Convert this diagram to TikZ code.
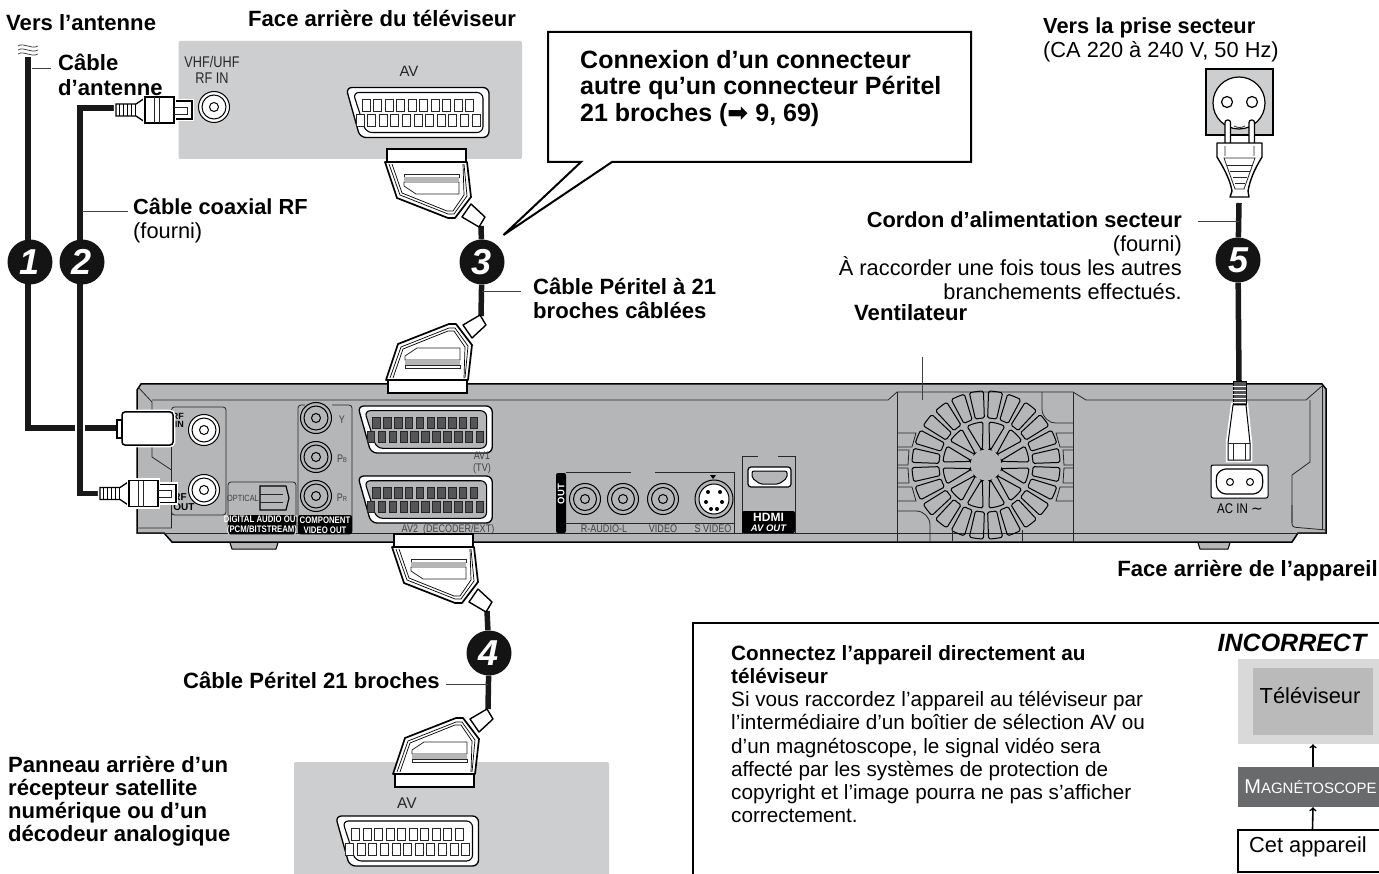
\documentclass[tikz,border=0pt]{standalone}
\usepackage{fontspec}
\setmainfont{Liberation Sans}
\newfontfamily\narrowfont[FakeStretch=0.82]{Liberation Sans}
\newfontfamily\symbolfont{DejaVu Sans}
\usetikzlibrary{backgrounds}
\definecolor{panelgrey}{RGB}{205,206,207}
\definecolor{devicegrey}{RGB}{181,182,184}
\definecolor{pingrey}{RGB}{85,85,87}
\definecolor{vcrgrey}{RGB}{105,106,108}
\tikzset{%
    cable/.style={line width=5.5pt,draw=black!90},
    leader/.style={line width=1pt,draw=black!75},
    thinline/.style={line width=.8pt,draw=black!85},
    step node/.style={circle,fill=black!92,text=white,minimum size=45pt,inner sep=0pt,
        font=\fontsize{36}{36}\selectfont\bfseries\itshape},
    tag/.style={anchor=north west,inner sep=0pt,align=left,
        font=\fontsize{21.8}{24}\selectfont},
    btag/.style={anchor=north west,inner sep=0pt,align=left,
        font=\bfseries\fontsize{22.1}{24}\selectfont},
    btagr/.style={anchor=north east,inner sep=0pt,align=right,
        font=\bfseries\fontsize{22.1}{24}\selectfont},
    note/.style={anchor=north west,inner sep=0pt,align=left,
        font=\fontsize{20.7}{23.2}\selectfont},
    tiny/.style={inner sep=0pt,text=black!75,font=\narrowfont\fontsize{11}{12}\selectfont},
    tvtext/.style={inner sep=0pt,text=black!85},
    band/.style={inner sep=0pt,align=center,text=white,
        font=\narrowfont\bfseries\fontsize{9.5}{10.5}\selectfont},
    halo/.style={preaction={draw=white,line width=4.5pt}},
    pics/scartplug/.style={code={
        \draw[line width=1.6pt,fill=white] (-40,0) rectangle (39,-13);
        \draw[line width=1.4pt,fill=white,line join=round] (35,-68) -- (44,-55) -- (58,-68) -- (52,-78) -- cycle;
        \draw[line width=1.7pt,fill=white,line join=round] (-42,-13) -- (-30,-49) -- (21,-69) -- (28,-69) -- (44,-48) -- (40,-13) -- cycle;
        \draw[line width=.7pt] (-38,-15) -- (-27,-46) -- (21,-65) -- (27,-65) -- (40,-47) -- (37,-15);
        \draw[line width=.7pt] (-35,-15) -- (-25,-44) -- (20,-62) -- (26,-62) -- (37,-46) -- (36,-15);
        \draw[thinline,fill=white] (-23,-33) -- (32,-33) -- (32,-45) -- (-11,-45) -- (-23,-37) -- cycle;
        \draw[thinline] (-23,-25) rectangle (32,-28);
        \fill[devicegrey] (-23,-28) rectangle (32,-33);
    }},
    pics/scartsocket/.style n args={2}{code={
        \draw[line width=1.3pt,fill=white,rounded corners=6pt] (-72,-25) -- (71,-25) -- (71,25) -- (-58,25) -- cycle;
        \draw[line width=1.1pt,fill=#1,rounded corners=6pt] (-65,-20) -- (65,-20) -- (65,20) -- (-52,20) -- cycle;
        \foreach \i in {0,...,9}
            \draw[thinline,fill=#2] (-56+\i*11.5,-13) rectangle +(8,12);
        \foreach \i in {0,...,10}
            \draw[thinline,fill=#2] (-62+\i*11.6,2) rectangle +(8,12);
    }},
    pics/jack/.style={code={
        \draw[line width=1pt,fill=#1] (0,0) circle[radius=15.5pt];
        \draw[line width=1pt] (0,0) circle[radius=12pt];
        \draw[line width=1pt] (0,0) circle[radius=4.5pt];
    }},
    pics/coaxplug/.style={code={
        \draw[line width=1.3pt,fill=white,halo] (0,-6) -- (20,-6) -- (29,-12) -- (29,12) -- (20,6) -- (0,6) -- cycle;
        \foreach \i in {3,7,...,19} \draw[line width=1pt] (\i,-6) -- (\i,6);
        \draw[line width=1.5pt,fill=white,halo] (57,-9) rectangle (76,9);
        \draw[line width=1.5pt,fill=white,halo] (29,-13) rectangle (58,13);
        \draw[thinline] (38,-13) -- (38,13) (43,-13) -- (43,13);
        \draw[thinline] (58,-3) -- (71,-3) -- (71,4) -- (58,4);
    }},
}
\begin{document}
\begin{tikzpicture}[x=1pt,y=-1pt,>=to]
\useasboundingbox (0,0) rectangle (1379,874);

% grey panels
\fill[panelgrey,rounded corners=2pt] (178.5,41) rectangle (522,159);
\fill[panelgrey,rounded corners=2pt] (294,762) rectangle (609,880);

% the device
\draw[line width=1.5pt,fill=devicegrey] (137,390) -- (141,384) -- (1322,384) -- (1326,389) -- (1326,533) -- (1298,533) -- (1292,542) -- (172,542) -- (164,533) -- (137,533) -- cycle;
\draw[thinline] (137,533) -- (1326,533);
\draw[thinline] (138,387) -- (152,402) -- (152,457) -- (171.5,470) -- (171.5,528) -- (137,528);
\draw[thinline] (152,400) -- (888,400) -- (897,392) -- (1073,392) -- (1086,400) -- (1306,400) -- (1322,386);
\draw[thinline] (1292,523) -- (1292,475) -- (1310,462) -- (1310,400);
\draw[thinline,rounded corners=3pt] (1292,505) -- (1292,527) -- (1326,530);
\draw[thinline] (1322,386) -- (1322,530);
\draw[line width=1pt,fill=devicegrey] (230,543) -- (232,549) -- (276,549) -- (278,543);
\draw[line width=1pt,fill=devicegrey] (1198,543) -- (1200,549) -- (1228,549) -- (1230,543);

% rf panel
\draw[thinline,rounded corners=3pt] (171.5,407) rectangle (226,515);
\pic at (204,430) {jack=white};
\pic at (204,490) {jack=white};
\node[anchor=north east,inner sep=0pt,align=right,font=\bfseries\fontsize{9}{8}\selectfont] (rfintag) at (184,413) {RF\\IN};
\node[inner sep=0pt,align=left,font=\bfseries\fontsize{10}{9.5}\selectfont] (rfouttag) at (184,502) {RF\\OUT};

% optical
\draw[thinline,rounded corners=3pt] (228,482) rectangle (296,534);
\fill[black,rounded corners=2pt] (228,515) rectangle (296,534);
\node[band] (opticband) at (262,525) {DIGITAL AUDIO OUT\\(PCM/BITSTREAM)};
\node[tiny,font=\narrowfont\fontsize{9}{9}\selectfont] (optictag) at (243,498) {OPTICAL};
\draw[line width=1.2pt,fill=devicegrey] (260,486) -- (286,486) -- (289,498) -- (286,510) -- (260,510) -- cycle;
\draw[thinline] (260,494) -- (283,494) (260,502) -- (283,502);

% component
\draw[thinline,rounded corners=3pt] (332,405) -- (352,405) -- (352,534) -- (298,534) -- (298,405) -- (305,405);
\fill[black,rounded corners=2pt] (298,515) rectangle (352,534);
\node[band] (compband) at (325,525) {COMPONENT\\VIDEO OUT};
\foreach \y/\t in {418/Y,457/{P\scriptsize B},496/{P\scriptsize R}} {
    \pic at (316,\y) {jack=devicegrey};
    \node[tiny] (comp\y) at (342,\y+2) {\t};
}

% scart sockets
\pic[xscale=.94,yscale=.94] at (425.5,429.5) {scartsocket={devicegrey}{pingrey}};
\pic[xscale=.94,yscale=.94] at (425.5,499.5) {scartsocket={devicegrey}{pingrey}};
\node[tiny,align=center] (av1tag) at (482,463) {AV1\\(TV)};
\node[tiny] (av2tag) at (448,530) {AV2\ \ (DECODER/EXT)};

% outputs
\fill[black,rounded corners=2pt] (556,473) rectangle (566,533);
\node[band,rotate=90,font=\bfseries\fontsize{9.5}{10}\selectfont] (outband) at (561,494) {OUT};
\draw[thinline] (566,472) -- (631,472) (655,472) -- (734,472) -- (734,533);
\draw[thinline] (566,523) -- (734,523);
\foreach \x in {585,623,663} {
    \draw[line width=1pt] (\x,499) circle[radius=15.5pt];
    \draw[line width=1pt] (\x,499) circle[radius=11.5pt];
    \draw[line width=1pt] (\x,499) circle[radius=4.5pt];
}
\draw[line width=1pt] (714,499) circle[radius=19pt];
\draw[line width=1pt,fill=white] (714,499) circle[radius=15pt];
\foreach \x/\y in {708/492,720/492,706/502,722/502,711/509,717/509} \fill[black] (\x,\y) circle[radius=2pt];
\fill[black] (710,475) -- (716,475) -- (713,479) -- cycle;
\node[tiny] (audiotag) at (604,529) {R-AUDIO-L};
\node[tiny] (videotag) at (663,529) {VIDEO};
\node[tiny] (svideotag) at (713,529) {S VIDEO};

% hdmi
\draw[thinline] (742,533) -- (742,456) -- (758,456) (778,456) -- (795,456) -- (795,533);
\draw[line width=1.2pt,rounded corners=3pt,fill=white] (748,467) rectangle (791,487);
\draw[line width=1pt,rounded corners=2pt,fill=devicegrey] (752,471) -- (787,471) -- (787,478) -- (779,484) -- (760,484) -- (752,478) -- cycle;
\fill[black,rounded corners=2pt] (742,511) rectangle (795,533);
\node[band,font=\bfseries\fontsize{12}{11}\selectfont] (hdmiband) at (768.5,522) {HDMI\\[-1pt]{\itshape\fontsize{9.5}{9}\selectfont AV OUT}};

% fan
\begin{scope}[shift={(986,465)},y=1pt,line width=1pt]
\foreach \a in {0,30,...,330}
    \draw[rounded corners=1.5pt] (\a+13:16pt) -- (\a+4:43pt) arc (\a+4:\a+26:43pt) -- (\a+17:16pt) -- cycle;
\foreach \a in {0,15,...,345}
    \draw[rounded corners=1.5pt] (\a+2:47pt) arc (\a+2:\a+13:47pt) -- (\a+13:74pt) arc (\a+13:\a+2:74pt) -- cycle;
\end{scope}
\draw[thinline] (897,392) -- (897,542) (1073,392) -- (1073,542);
\draw[thinline] (897,433) -- (916,433) -- (912,447) -- (897,447) (897,450) -- (909,450) -- (908,465) -- (897,465)
    (897,468) -- (908,468) -- (909,483) -- (897,483) (897,487) -- (912,487) -- (916,501) -- (897,501);
\draw[thinline] (1073,433) -- (1056,433) -- (1060,447) -- (1073,447) (1073,450) -- (1063,450) -- (1064,465) -- (1073,465)
    (1073,468) -- (1064,468) -- (1063,483) -- (1073,483) (1073,487) -- (1060,487) -- (1056,501) -- (1073,501);
\draw[thinline,rounded corners=14pt] (1042,392) -- (1042,423) -- (1073,423);
\draw[thinline,rounded corners=14pt] (897,511) -- (930,511) -- (930,541);
\draw[thinline] (952,530) -- (952,541) (1022,530) -- (1022,541);

% power inlet
\draw[line width=1pt,fill=white,rounded corners=2pt] (1211,465) rectangle (1268,498);
\draw[line width=1.2pt,rounded corners=7pt] (1219,469) -- (1260,469) -- (1264,481) -- (1260,494) -- (1219,494) -- (1215,481) -- cycle;
\draw[line width=1pt] (1230,482) circle[radius=3.5pt] (1250,482) circle[radius=3.5pt];
\node[inner sep=0pt,font=\narrowfont\fontsize{14}{14}\selectfont] (acintag) at (1240,509) {AC IN {\symbolfont ∼}};

% wall socket and power plug
\draw[line width=1.4pt,fill=panelgrey] (1206,69) rectangle (1273,135);
\draw[line width=1.2pt,fill=white] (1239,103) circle[radius=26pt];
\draw[line width=1.2pt,fill=white] (1227,102) circle[radius=5.5pt] (1252,102) circle[radius=5.5pt];
\draw[thinline] (1234,126) .. controls (1238,128) and (1241,128) .. (1245,126);
\draw[line width=1.2pt,fill=white,rounded corners=2.5pt] (1225,145) rectangle (1230.5,120);
\draw[line width=1.2pt,fill=white,rounded corners=2.5pt] (1249,145) rectangle (1254.5,120);
\draw[line width=1.4pt,fill=white,line join=round] (1217,143) -- (1262,143) -- (1262,157) .. controls (1254,170) and (1250,180) .. (1248,191) -- (1249,197) -- (1230,197) -- (1232,191) .. controls (1230,180) and (1225,170) .. (1217,157) -- cycle;
\draw[thinline] (1225,146) -- (1225,156) (1254,146) -- (1254,156) (1224,158) -- (1255,158) -- (1244,189) -- (1235,189) -- cycle;
\foreach \x/\w in {165/13,171/10,177/7,183/5} \draw[thinline] (1239.5-\w,\x) -- (1239.5+\w,\x);

% iec plug
\draw[line width=1pt,fill=white,halo] (1233,405) -- (1228,443) -- (1228,460) -- (1250,460) -- (1250,443) -- (1246,405) -- cycle;
\draw[thinline] (1233,443) -- (1233,460) (1245,443) -- (1245,460) (1228,443) -- (1250,443);
\draw[line width=1pt,fill=pingrey] (1233,382) rectangle (1246,405);
\foreach \y in {386,390,...,402} \draw[white,line width=.7pt] (1233,\y) -- (1246,\y);

% tv connectors
\pic at (418,112.5) {scartsocket={white}{white}};
\pic at (214,107) {jack=white};
\node[tvtext,align=center,font=\narrowfont\fontsize{15.5}{16.5}\selectfont] (rfin) at (212,70) {VHF/UHF\\RF IN};
\node[tvtext,font=\fontsize{15}{15}\selectfont] (avtv) at (409,71) {AV};

% bottom panel connectors
\pic at (407.5,841) {scartsocket={white}{white}};
\node[tvtext,font=\fontsize{15.5}{15}\selectfont] (avbox) at (407,803) {AV};

% scart plugs
\pic[yscale=-1] at (427,149) {scartplug};
\pic at (428,393) {scartplug};
\pic[yscale=-1] at (434,534) {scartplug};
\pic at (435,787) {scartplug};

% rf plugs
\pic at (116,110) {coaxplug};
\pic at (100,493.5) {coaxplug};
\draw[line width=1.5pt,fill=white,rounded corners=3pt,halo] (122,412) rectangle (173,445);
\draw[line width=1.2pt,fill=white] (117,420) rectangle (122,438);
\foreach \y in {46,50,54}
    \draw[line width=.7pt,black!80] (18,\y) .. controls (24,\y-4) and (31,\y+4) .. (38,\y);

% step nodes
\node[step node] (one) at (30,262) {1};
\node[step node] (two) at (82,262) {2};
\node[step node] (three) at (482,262) {3};
\node[step node] (four) at (489,653) {4};
\node[step node] (five) at (1238,260) {5};

% cable ends
\coordinate (antop) at (28,57);
\coordinate (anbend) at (28,428);
\coordinate (anend) at (117,428);
\coordinate (coaxtop) at (118,108);
\coordinate (coaxup) at (80,108);
\coordinate (coaxdown) at (80,493.5);
\coordinate (coaxend) at (102,493.5);
\coordinate (tvboot) at (481,226);
\coordinate (unitboot) at (481,316);
\coordinate (outboot) at (487,611);
\coordinate (boxboot) at (488,709);
\coordinate (plugfoot) at (1239,203);
\coordinate (iectop) at (1239,382);
\begin{scope}[on background layer]
\draw[cable] (antop) -- (anbend) -- (anend);
\draw[white,line width=10pt] (75,428) -- (85,428);
\draw[cable] (coaxtop) -- (coaxup) -- (coaxdown) -- (coaxend);
\draw[cable] (tvboot) -- (three) -- (unitboot);
\draw[cable] (outboot) -- (four) -- (boxboot);
\draw[cable] (plugfoot) -- (five) -- (iectop);
\end{scope}

% callout
\draw[line width=2pt,fill=white,line join=miter] (612,162) -- (971,162) -- (971,32) -- (548,32) -- (548,162) -- (581,162) -- (503.5,235) -- cycle;

% labels
\node[btag] (vers) at (6,14) {Vers l’antenne};
\node[btag] (face) at (248,10) {Face arrière du téléviseur};
\node[btag,font=\bfseries\fontsize{22.1}{24.5}\selectfont] (antcable) at (58,54) {Câble\\d’antenne};
\node[tag] (coax) at (133,198) {\textbf{Câble coaxial RF}\\(fourni)};
\node[btag] (peritel) at (533,278) {Câble Péritel à 21\\broches câblées};
\node[anchor=north west,inner sep=0pt,align=left,font=\bfseries\fontsize{25}{26.5}\selectfont] (callout) at (580,50) {Connexion d’un connecteur\\autre qu’un connecteur Péritel\\21 broches ({\symbolfont ➡} 9, 69)};
\node[tag] (prise) at (1043,18) {\textbf{Vers la prise secteur}\\(CA 220 à 240 V, 50 Hz)};
\node[anchor=north east,inner sep=0pt,align=right,font=\fontsize{21.8}{23.4}\selectfont] (cordon) at (1182,212) {\textbf{Cordon d’alimentation secteur}\\(fourni)\\À raccorder une fois tous les autres\\branchements effectués.};
\node[btag] (venti) at (854,304) {Ventilateur};
\node[btagr] (faceapp) at (1378,560) {Face arrière de l’appareil};
\node[btagr] (peri21) at (440,672) {Câble Péritel 21 broches};
\node[btag,font=\bfseries\fontsize{22.1}{23}\selectfont] (panneau) at (8,756) {Panneau arrière d’un\\récepteur satellite\\numérique ou d’un\\décodeur analogique};

% leaders
\coordinate (antick) at (32,69);
\coordinate (antlabel) at (51,69);
\coordinate (coaxtick) at (82,212);
\coordinate (coaxlabel) at (128,212);
\coordinate (peritick) at (482,292);
\coordinate (perilabel) at (521,292);
\coordinate (peri21tick) at (488,684);
\coordinate (peri21label) at (446,684);
\coordinate (cordontick) at (1239,222);
\coordinate (cordonlabel) at (1198,222);
\coordinate (ventitick) at (922,400);
\coordinate (ventilabel) at (922,357);
\path[leader]
    (antick) edge (antlabel)
    (coaxtick) edge (coaxlabel)
    (peritick) edge (perilabel)
    (peri21tick) edge (peri21label)
    (cordontick) edge (cordonlabel)
    (ventitick) edge (ventilabel);

% lower right frame
\draw[line width=2pt] (693,874) -- (693,623) -- (1379,623);
\node[note] (conseil) at (731,645) {\textbf{Connectez l’appareil directement au}\\\textbf{téléviseur}\\Si vous raccordez l’appareil au téléviseur par\\l’intermédiaire d’un boîtier de sélection AV ou\\d’un magnétoscope, le signal vidéo sera\\affecté par les systèmes de protection de\\copyright et l’image pourra ne pas s’afficher\\correctement.};
\node[inner sep=0pt,font=\bfseries\itshape\fontsize{25}{25}\selectfont] (wrong) at (1292,643) {INCORRECT};
\node[fill=black!15,minimum width=141pt,minimum height=85pt,inner sep=0pt] (tvframe) at (1308.5,701.5) {};
\node[fill=black!27,minimum width=120pt,minimum height=67pt,inner sep=0pt] (tvbox) at (1313,701.5) {};
\node[inner sep=0pt,font=\fontsize{21.8}{22}\selectfont] (tvtext) at (1310,696) {Téléviseur};
\node[fill=vcrgrey,text=white,minimum width=141pt,minimum height=40pt,inner sep=0pt,font=\fontsize{20}{20}\selectfont] (vcrbox) at (1308.5,787) {\kern4pt M{\fontsize{15}{15}\selectfont AGNÉTOSCOPE}};
\node[draw,line width=2.2pt,fill=white,minimum width=145pt,minimum height=42pt,inner sep=0pt] (unitbox) at (1310.5,851) {};
\node[inner sep=0pt,font=\fontsize{21.8}{22}\selectfont] (unittext) at (1308,847) {Cet appareil};
\draw[->,line width=1.6pt] ([xshift=2pt]unitbox.north) -- ([xshift=4.5pt]vcrbox.south);
\draw[->,line width=1.6pt] ([xshift=4.5pt]vcrbox.north) -- ([xshift=4.5pt]tvframe.south);
\end{tikzpicture}
\end{document}
